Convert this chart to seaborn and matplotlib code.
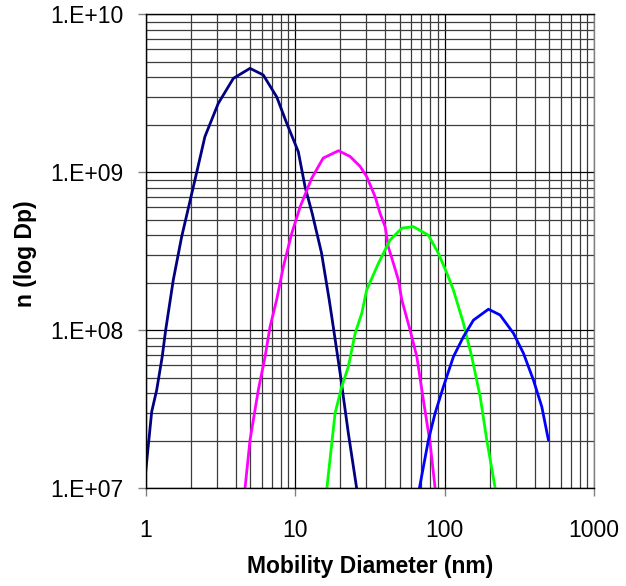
import numpy as np
import pandas as pd
import matplotlib
matplotlib.use("Agg")
import matplotlib.pyplot as plt
import seaborn as sns
from matplotlib.ticker import FuncFormatter, LogLocator

# ---- data ----
navy_x = [1.0, 1.097, 1.185, 1.29, 1.36, 1.53, 1.74, 2.19, 2.49, 3.06, 3.86, 4.99, 6.12, 7.53, 8.79, 10.5, 11.65, 13.0, 15.0, 16.9, 18.0, 20.0, 22.7, 25.8]
navy_y = [1.27e7, 3.05e7, 4.19e7, 6.8e7, 1.0e8, 2.08e8, 3.9e8, 9.9e8, 1.68e9, 2.73e9, 3.93e9, 4.55e9, 4.13e9, 3.0e9, 2.04e9, 1.35e9, 8.1e8, 5.5e8, 3.1e8, 1.56e8, 1.05e8, 5.35e7, 2.23e7, 1.0e7]

magenta_x = [4.62, 4.99, 5.67, 6.29, 6.79, 7.52, 8.34, 9.49, 10.8, 12.9, 15.4, 19.5, 23.3, 27.2, 30.1, 34.3, 37.0, 40.0, 42.0, 45.4, 49.1, 51.7, 58.8, 65.2, 72.1, 80.0, 86.4]
magenta_y = [1.0e7, 2.02e7, 4.19e7, 6.8e7, 1.05e8, 1.56e8, 2.53e8, 4.11e8, 6.05e8, 9.16e8, 1.23e9, 1.37e9, 1.26e9, 1.09e9, 9.4e8, 7.0e8, 5.5e8, 4.53e8, 3.38e8, 2.66e8, 2.08e8, 1.56e8, 1.0e8, 6.8e7, 3.62e7, 1.93e7, 1.0e7]

green_x = [16.3, 18.5, 20.5, 22.7, 25.2, 27.9, 30.1, 36.1, 43.2, 51.7, 61.8, 77.9, 90.9, 103.5, 114.5, 133.6, 152.0, 173.0, 191.5, 218.0]
green_y = [1.0e7, 2.99e7, 4.4e7, 5.89e7, 9.57e7, 1.28e8, 1.8e8, 2.66e8, 3.73e8, 4.43e8, 4.53e8, 4.0e8, 3.07e8, 2.3e8, 1.8e8, 1.11e8, 6.8e7, 3.8e7, 2.02e7, 1.0e7]

blue_x = [67.8, 77.9, 86.4, 98.2, 114.5, 133.6, 156.0, 196.5, 235.0, 289.0, 337.0, 393.0, 447.0, 495.0]
blue_y = [1.0e7, 2.02e7, 2.99e7, 4.4e7, 6.8e7, 9.1e7, 1.16e8, 1.36e8, 1.25e8, 9.57e7, 7.15e7, 4.84e7, 3.28e7, 2.02e7]

series = [
    ("navy", navy_x, navy_y, "#000080"),
    ("magenta", magenta_x, magenta_y, "#FF00FF"),
    ("green", green_x, green_y, "#00FF00"),
    ("blue", blue_x, blue_y, "#0000FF"),
]

x_label = "Mobility Diameter (nm)"
y_label = "n (log Dp)"

# ---- style ----
sns.set_style("white")
plt.rcParams["font.family"] = ["Liberation Sans", "DejaVu Sans"]
plt.rcParams["text.color"] = "black"
plt.rcParams["axes.labelcolor"] = "black"
plt.rcParams["xtick.color"] = "black"
plt.rcParams["ytick.color"] = "black"

fig = plt.figure(figsize=(6.26, 5.86), dpi=100)
ax = fig.add_axes([0.2327, 0.1667, 0.7163, 0.8089])

for name, xs, ys, col in series:
    df = pd.DataFrame({"x": xs, "y": ys})
    sns.lineplot(data=df, x="x", y="y", color=col, lw=2.0, sort=False,
                 estimator=None, ax=ax, legend=False)

ax.set_xscale("log")
ax.set_yscale("log")
ax.set_xlim(1, 1000)
ax.set_ylim(1e7, 1e10)

ax.xaxis.set_major_locator(LogLocator(base=10, numticks=10))
ax.yaxis.set_major_locator(LogLocator(base=10, numticks=10))
ax.xaxis.set_minor_locator(LogLocator(base=10, subs=np.arange(2, 10), numticks=100))
ax.yaxis.set_minor_locator(LogLocator(base=10, subs=np.arange(2, 10), numticks=100))
ax.xaxis.set_major_formatter(FuncFormatter(lambda v, p: f"{v:g}"))
ax.yaxis.set_major_formatter(FuncFormatter(lambda v, p: f"1.E+{int(round(np.log10(v))):02d}"))
ax.xaxis.set_minor_formatter(FuncFormatter(lambda v, p: ""))
ax.yaxis.set_minor_formatter(FuncFormatter(lambda v, p: ""))

ax.grid(True, which="major", color="#000000", lw=0.9)
ax.grid(True, which="minor", color="#3c3c3c", lw=0.9)
ax.set_axisbelow(True)

ax.tick_params(axis="x", which="major", direction="out", length=6, width=1,
               color="#808080", labelcolor="black", labelsize=16.5, pad=16, bottom=True)
ax.tick_params(axis="y", which="major", direction="out", length=6, width=1,
               color="#808080", labelcolor="black", labelsize=16.5, pad=10, left=True)
ax.tick_params(which="minor", length=0)

for s in ["left", "bottom", "top"]:
    ax.spines[s].set_color("#000000")
    ax.spines[s].set_linewidth(1.0)
ax.spines["right"].set_color("#808080")
ax.spines["right"].set_linewidth(1.0)

ax.set_xlabel(x_label, fontsize=16.5, fontweight="bold", va="center", color="black")
ax.set_ylabel(y_label, fontsize=16.5, fontweight="bold", va="center", color="black")
ax.xaxis.set_label_coords(0.5, -0.164)
ax.yaxis.set_label_coords(-0.269, 0.494)

fig.savefig("out.png", dpi=100)
